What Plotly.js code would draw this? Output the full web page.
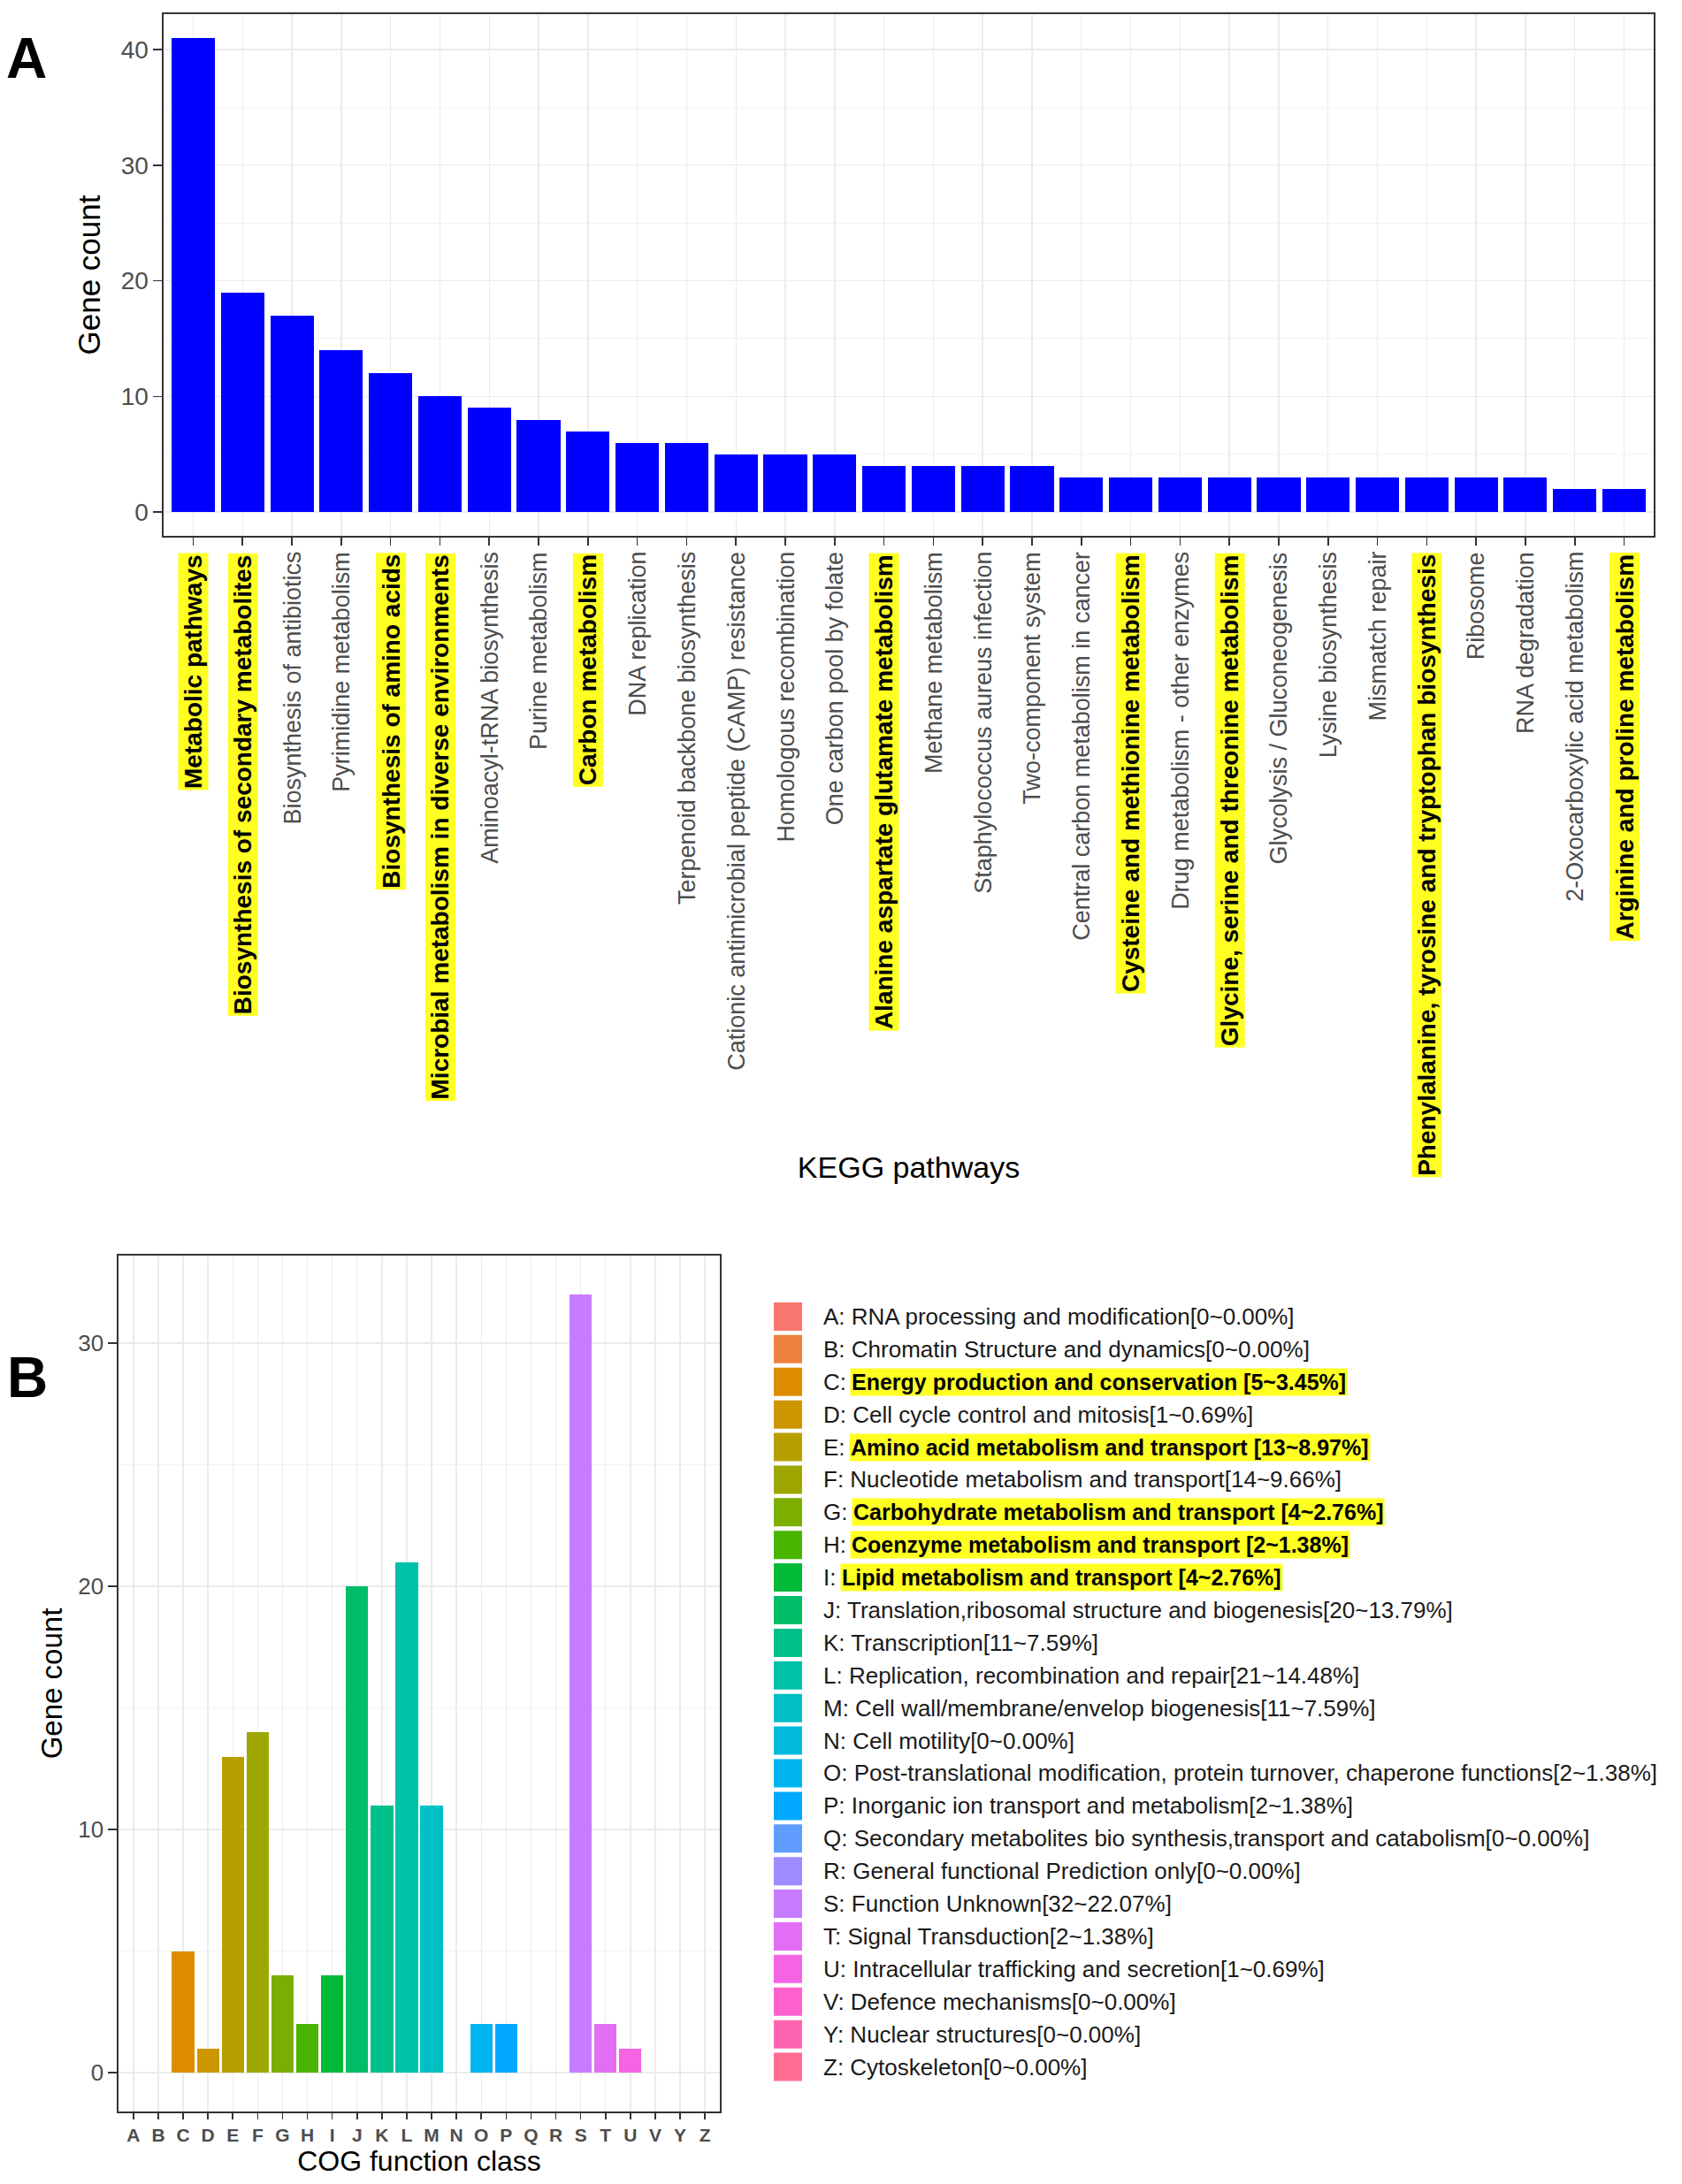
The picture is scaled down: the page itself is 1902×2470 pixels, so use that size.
<!DOCTYPE html>
<html>
<head>
<meta charset="utf-8">
<script src="https://cdn.plot.ly/plotly-3.0.1.min.js"></script>
<style>html,body{margin:0;padding:0;background:#fff;}#chart{width:1902px;height:2470px;}</style>
</head>
<body>
<div id="chart"></div>
<script>
// ---------- Panel A data (KEGG) ----------
const keggPathways = [
  'Metabolic pathways',
  'Biosynthesis of secondary metabolites',
  'Biosynthesis of antibiotics',
  'Pyrimidine metabolism',
  'Biosynthesis of amino acids',
  'Microbial metabolism in diverse environments',
  'Aminoacyl-tRNA biosynthesis',
  'Purine metabolism',
  'Carbon metabolism',
  'DNA replication',
  'Terpenoid backbone biosynthesis',
  'Cationic antimicrobial peptide (CAMP) resistance',
  'Homologous recombination',
  'One carbon pool by folate',
  'Alanine aspartate glutamate metabolism',
  'Methane metabolism',
  'Staphylococcus aureus infection',
  'Two-component system',
  'Central carbon metabolism in cancer',
  'Cysteine and methionine metabolism',
  'Drug metabolism - other enzymes',
  'Glycine, serine and threonine metabolism',
  'Glycolysis / Gluconeogenesis',
  'Lysine biosynthesis',
  'Mismatch repair',
  'Phenylalanine, tyrosine and tryptophan biosynthesis',
  'Ribosome',
  'RNA degradation',
  '2-Oxocarboxylic acid metabolism',
  'Arginine and proline metabolism'
];
const keggCounts = [41, 19, 17, 14, 12, 10, 9, 8, 7, 6, 6, 5, 5, 5, 4, 4, 4, 4, 3, 3, 3, 3, 3, 3, 3, 3, 3, 3, 2, 2];
const keggHighlighted = [
  'Metabolic pathways',
  'Biosynthesis of secondary metabolites',
  'Biosynthesis of amino acids',
  'Microbial metabolism in diverse environments',
  'Carbon metabolism',
  'Alanine aspartate glutamate metabolism',
  'Cysteine and methionine metabolism',
  'Glycine, serine and threonine metabolism',
  'Phenylalanine, tyrosine and tryptophan biosynthesis',
  'Arginine and proline metabolism'
];
const keggYTicks = [0, 10, 20, 30, 40];

// ---------- Panel B data (COG) ----------
const cogClasses = ['A','B','C','D','E','F','G','H','I','J','K','L','M','N','O','P','Q','R','S','T','U','V','Y','Z'];
const cogCounts  = [0, 0, 5, 1, 13, 14, 4, 2, 4, 20, 11, 21, 11, 0, 2, 2, 0, 0, 32, 2, 1, 0, 0, 0];
const cogDescriptions = [
  'RNA processing and modification[0~0.00%]',
  'Chromatin Structure and dynamics[0~0.00%]',
  'Energy production and conservation [5~3.45%]',
  'Cell cycle control and mitosis[1~0.69%]',
  'Amino acid metabolism and transport [13~8.97%]',
  'Nucleotide metabolism and transport[14~9.66%]',
  'Carbohydrate metabolism and transport [4~2.76%]',
  'Coenzyme metabolism and transport [2~1.38%]',
  'Lipid metabolism and transport [4~2.76%]',
  'Translation,ribosomal structure and biogenesis[20~13.79%]',
  'Transcription[11~7.59%]',
  'Replication, recombination and repair[21~14.48%]',
  'Cell wall/membrane/envelop biogenesis[11~7.59%]',
  'Cell motility[0~0.00%]',
  'Post-translational modification, protein turnover, chaperone functions[2~1.38%]',
  'Inorganic ion transport and metabolism[2~1.38%]',
  'Secondary metabolites bio synthesis,transport and catabolism[0~0.00%]',
  'General functional Prediction only[0~0.00%]',
  'Function Unknown[32~22.07%]',
  'Signal Transduction[2~1.38%]',
  'Intracellular trafficking and secretion[1~0.69%]',
  'Defence mechanisms[0~0.00%]',
  'Nuclear structures[0~0.00%]',
  'Cytoskeleton[0~0.00%]'
];
const cogHighlighted = ['C','E','G','H','I'];
const cogYTicks = [0, 10, 20, 30];

// ---------- styling helpers ----------
const FONT = '"Liberation Sans", Arial, Helvetica, sans-serif';
const W = 1902, H = 2470;
const px = v => v / W;
const py = v => 1 - v / H;

// ggplot2 default hue palette (hcl, c=100, l=65)
function hcl(h, c, l) {
  const hr = h * Math.PI / 180;
  const U = c * Math.cos(hr), V = c * Math.sin(hr);
  const Xn = 95.047, Yn = 100, Zn = 108.883;
  const Y = l > 8 ? Yn * Math.pow((l + 16) / 116, 3) : Yn * l / 903.3;
  const t = Xn + 15 * Yn + 3 * Zn;
  const un = 4 * Xn / t, vn = 9 * Yn / t;
  const u = U / (13 * l) + un, v = V / (13 * l) + vn;
  const X = 9 * Y * u / (4 * v);
  const Z = -X / 3 - 5 * Y + 3 * Y / v;
  const x = X / 100, y = Y / 100, z = Z / 100;
  const lin = [
    3.240479 * x - 1.537150 * y - 0.498535 * z,
    -0.969256 * x + 1.875992 * y + 0.041556 * z,
    0.055648 * x - 0.204043 * y + 1.057311 * z
  ];
  const hex = lin.map(cv => {
    let g = cv <= 0.0031308 ? 12.92 * cv : 1.055 * Math.pow(cv, 1 / 2.4) - 0.055;
    g = Math.max(0, Math.min(1, g));
    return Math.round(g * 255).toString(16).padStart(2, '0');
  });
  return '#' + hex.join('');
}
function huePal(n) {
  const out = [];
  for (let i = 0; i < n; i++) out.push(hcl((15 + 360 * i / n) % 360, 100, 65));
  return out;
}
const cogColors = huePal(cogClasses.length);

// text measuring for legend prefix offsets
const cv = document.createElement('canvas').getContext('2d');
function textWidth(txt, size, weight) {
  cv.font = (weight || 'normal') + ' ' + size + 'px ' + FONT;
  return cv.measureText(txt).width;
}

// ---------- traces ----------
const traceA = {
  type: 'bar', x: keggPathways, y: keggCounts, xaxis: 'x', yaxis: 'y',
  marker: { color: '#0000FF', line: { width: 0 } }, width: 0.88,
  hoverinfo: 'x+y', showlegend: false
};
const traceB = {
  type: 'bar', x: cogClasses, y: cogCounts, xaxis: 'x2', yaxis: 'y2',
  marker: { color: cogColors, line: { width: 0 } }, width: 0.9,
  hoverinfo: 'x+y', showlegend: false
};
const legendKeys = {
  type: 'scatter', mode: 'markers', x: cogClasses.map(() => 0), y: cogClasses,
  xaxis: 'x3', yaxis: 'y3', cliponaxis: false,
  marker: { symbol: 'square', size: 32, color: cogColors, line: { width: 0 } },
  hoverinfo: 'skip', showlegend: false
};

// ---------- annotations ----------
const annotations = [];
const hlK = new Set(keggHighlighted);
keggPathways.forEach(name => {
  const on = hlK.has(name);
  annotations.push({
    xref: 'x', yref: 'y domain', x: name, y: 0,
    xanchor: 'center', yanchor: 'top', yshift: on ? -19 : -16,
    textangle: -90, showarrow: false,
    text: on ? '<b>' + name + '</b>' : name,
    font: { family: FONT, size: on ? 28 : 27, color: on ? '#000000' : '#4D4D4D' },
    bgcolor: on ? '#FFFF22' : 'rgba(0,0,0,0)', borderpad: 1
  });
});

const hlC = new Set(cogHighlighted);
const LEG_SIZE = 26, LEG_BOLD = 25, LEG_X = 930;
cogClasses.forEach((code, i) => {
  const prefix = code + ':';
  if (hlC.has(code)) {
    annotations.push({
      xref: 'paper', yref: 'y3', x: px(LEG_X), y: code, xanchor: 'left', yanchor: 'middle',
      text: prefix, showarrow: false, borderpad: 0,
      font: { family: FONT, size: LEG_SIZE, color: '#1A1A1A' }
    });
    const shift = textWidth(prefix + ' ', LEG_SIZE) - 2;
    annotations.push({
      xref: 'paper', yref: 'y3', x: px(LEG_X), y: code, xanchor: 'left', yanchor: 'middle',
      xshift: shift, text: '<b>' + cogDescriptions[i] + '</b>', showarrow: false,
      bgcolor: '#FFFF22', borderpad: 1,
      font: { family: FONT, size: LEG_BOLD, color: '#000000' }
    });
  } else {
    annotations.push({
      xref: 'paper', yref: 'y3', x: px(LEG_X), y: code, xanchor: 'left', yanchor: 'middle',
      text: prefix + ' ' + cogDescriptions[i], showarrow: false, borderpad: 0,
      font: { family: FONT, size: LEG_SIZE, color: '#1A1A1A' }
    });
  }
});

// panel tags
annotations.push({ xref: 'paper', yref: 'paper', x: px(30), y: py(66), xanchor: 'center', yanchor: 'middle',
  text: '<b>A</b>', showarrow: false, font: { family: FONT, size: 64, color: '#000' } });
annotations.push({ xref: 'paper', yref: 'paper', x: px(31), y: py(1558), xanchor: 'center', yanchor: 'middle',
  text: '<b>B</b>', showarrow: false, font: { family: FONT, size: 64, color: '#000' } });

// ---------- axes ----------
const common = {
  showline: true, mirror: true, linecolor: '#333333', linewidth: 1.6,
  ticks: 'outside', tickcolor: '#333333', tickwidth: 1.6,
  showgrid: true, gridcolor: '#EBEBEB', gridwidth: 1.4, zeroline: false, fixedrange: true
};

const layout = {
  width: W, height: H, margin: { l: 0, r: 0, t: 0, b: 0 },
  paper_bgcolor: '#FFFFFF', plot_bgcolor: '#FFFFFF',
  showlegend: false, bargap: 0,
  font: { family: FONT, color: '#4D4D4D' },
  xaxis: Object.assign({}, common, {
    domain: [px(185), px(1870)], anchor: 'y', type: 'category',
    categoryorder: 'array', categoryarray: keggPathways,
    range: [-0.6, keggPathways.length - 0.4], showticklabels: false, ticklen: 9,
    title: { text: 'KEGG pathways', font: { family: FONT, size: 34, color: '#000' }, standoff: 692 }
  }),
  yaxis: Object.assign({}, common, {
    domain: [py(606), py(16)], anchor: 'x', range: [-2.05, 43.05],
    tickvals: keggYTicks, ticklen: 10,
    tickfont: { family: FONT, size: 28, color: '#4D4D4D' },
    minor: { tickvals: [5, 15, 25, 35], showgrid: true, gridcolor: '#F4F4F4', gridwidth: 1, ticks: '' },
    title: { text: 'Gene count', font: { family: FONT, size: 35, color: '#000' }, standoff: 12 }
  }),
  xaxis2: Object.assign({}, common, {
    domain: [px(134), px(814)], anchor: 'y2', type: 'category',
    categoryorder: 'array', categoryarray: cogClasses,
    range: [-0.6, cogClasses.length - 0.4], ticklen: 7,
    tickfont: { family: FONT, size: 21, color: '#4D4D4D', weight: 'bold' },
    title: { text: 'COG function class', font: { family: FONT, size: 32, color: '#000' }, standoff: 4 }
  }),
  yaxis2: Object.assign({}, common, {
    domain: [py(2388), py(1420)], anchor: 'x2', range: [-1.6, 33.6],
    tickvals: cogYTicks, ticklen: 10,
    tickfont: { family: FONT, size: 26, color: '#4D4D4D' },
    minor: { tickvals: [5, 15, 25], showgrid: true, gridcolor: '#F4F4F4', gridwidth: 1, ticks: '' },
    title: { text: 'Gene count', font: { family: FONT, size: 33, color: '#000' }, standoff: 8 }
  }),
  xaxis3: { domain: [px(891), 1], anchor: 'y3', range: [0, 1], visible: false, fixedrange: true },
  yaxis3: {
    domain: [py(2356), py(1470.5)], anchor: 'x3', type: 'category',
    categoryorder: 'array', categoryarray: cogClasses,
    range: [cogClasses.length - 0.5, -0.5], visible: false, fixedrange: true
  },
  annotations: annotations
};

Plotly.newPlot('chart', [traceA, traceB, legendKeys], layout, { displayModeBar: false, staticPlot: true });
</script>
</body>
</html>
